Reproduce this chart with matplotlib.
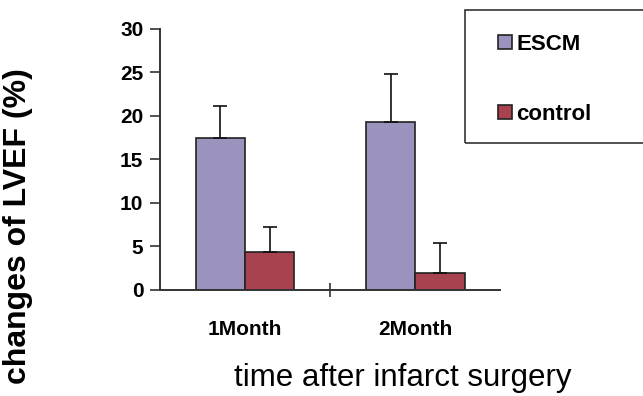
import matplotlib.pyplot as plt
from matplotlib.patches import Rectangle
import numpy as np

months = ['1Month', '2Month']
escm = [17.5, 19.3]
escm_err = [3.6, 5.5]
control = [4.4, 1.9]
control_err = [2.8, 3.5]

plt.rcParams['font.family'] = ['Liberation Sans', 'DejaVu Sans']

fig = plt.figure(figsize=(6.43, 3.96), dpi=100)
ax = fig.add_axes([0.249, 0.268, 0.529, 0.659])

x = np.arange(len(months))
w = 0.29
ec = '#222222'
ax.bar(x - w / 2, escm, w, color='#9b93bd', edgecolor=ec, linewidth=1.2,
       yerr=[[0, 0], escm_err], capsize=5, error_kw=dict(ecolor='#111111', elinewidth=1.2, capthick=1.2),
       label='ESCM')
ax.bar(x + w / 2, control, w, color='#a8424f', edgecolor=ec, linewidth=1.2,
       yerr=[[0, 0], control_err], capsize=5, error_kw=dict(ecolor='#111111', elinewidth=1.2, capthick=1.2),
       label='control')

ax.set_xlim(-0.5, 1.5)
ax.set_ylim(0, 30)
ax.set_yticks([0, 5, 10, 15, 20, 25, 30])
ax.tick_params(axis='y', direction='out', length=7, width=1.2, color='#333333',
               labelsize=15, pad=5)
for t in ax.get_yticklabels():
    t.set_fontweight('bold')

ax.set_xticks([0.5])
ax.set_xticklabels([''])
ax.tick_params(axis='x', direction='inout', length=10, width=1.2, color='#333333')
ax.set_xticks(x, minor=True)
ax.set_xticklabels(months, minor=True, fontsize=15, fontweight='bold')
ax.tick_params(axis='x', which='minor', length=0, pad=22)

for s in ['top', 'right']:
    ax.spines[s].set_visible(False)
for s in ['left', 'bottom']:
    ax.spines[s].set_color('#333333')
    ax.spines[s].set_linewidth(1.4)

fig.text(0.028, 0.43, 'changes of LVEF (%)', rotation=90, fontsize=23,
         fontweight='bold', ha='center', va='center')
fig.text(0.627, 0.045, 'time after infarct surgery', fontsize=22.5,
         ha='center', va='center')

fig.patches.append(Rectangle((0.723, 0.639), 0.28, 0.336, transform=fig.transFigure,
                             facecolor='none', edgecolor='#333333', linewidth=1.2))
leg = fig.legend(loc='upper left', bbox_to_anchor=(0.775, 0.915), ncol=1,
                 frameon=False, prop=dict(size=16, weight='bold'), labelspacing=2.2,
                 handlelength=0.6, handleheight=0.6, handletextpad=0.2,
                 borderpad=0, borderaxespad=0)

fig.savefig('out.png', dpi=100)
